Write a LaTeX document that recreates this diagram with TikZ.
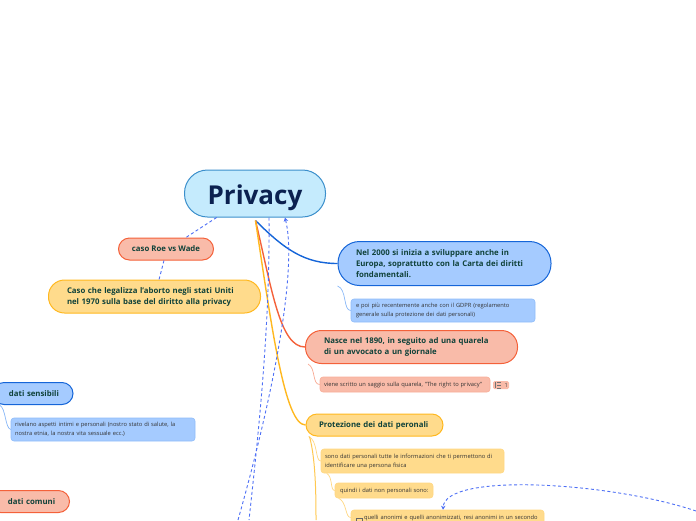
\documentclass[tikz,border=0pt]{standalone}
\usepackage{fontspec}
\setmainfont{Open Sans}
\usepackage{xcolor}
\usetikzlibrary{arrows.meta,positioning}
\definecolor{rootfill}{HTML}{C5EBFD}
\definecolor{rootline}{HTML}{3B8FCB}
\definecolor{rootink}{HTML}{0B2150}
\definecolor{bluefill}{HTML}{A5CBFF}
\definecolor{blueline}{HTML}{1565D8}
\definecolor{redfill}{HTML}{F9BBA9}
\definecolor{redline}{HTML}{F4613A}
\definecolor{yelfill}{HTML}{FFDB8C}
\definecolor{yelline}{HTML}{FFB81F}
\definecolor{mainink}{HTML}{10423A}
\definecolor{linkblue}{HTML}{4D6FF5}
\begin{document}
\begin{tikzpicture}[
	x=1pt,y=-1pt,
	>=Stealth,
	topic/.style={
		rectangle, rounded corners=#1,
		line width=1pt, inner sep=0pt, align=left,
		text=mainink, font=\fontsize{7.8}{11}\selectfont\bfseries
	},
	bluetopic/.style={topic=21.5pt, draw=blueline, fill=bluefill},
	redtopic/.style={topic=16pt, draw=redline, fill=redfill},
	yeltopic/.style={topic=16pt, draw=yelline, fill=yelfill},
	note/.style={
		rectangle, rounded corners=3pt,
		line width=0.6pt, inner sep=0pt, align=left,
		text=black!80, font=\fontsize{5.75}{9}\selectfont
	},
	bluenote/.style={note, draw=bluefill!85!blueline, fill=bluefill},
	rednote/.style={note, draw=redfill!85!redline, fill=redfill},
	yelnote/.style={note, draw=yelfill!90!yelline, fill=yelfill},
	branch/.style={line width=1.4pt},
	twig/.style={line width=0.7pt},
	linkplain/.style={dash pattern=on 3pt off 2.5pt, linkblue, line width=0.9pt},
	link/.style={linkplain, -{Stealth[length=4pt,width=4.5pt]}}
	]
	\useasboundingbox (0,0) rectangle (696,520);
	\clip (0,0) rectangle (696,520);

	%% root
	\coordinate (hub) at (255.5,220.5);
	\node[topic=23pt, draw=rootline, fill=rootfill, minimum width=141pt, minimum height=47pt,
		text height=22pt, text depth=1pt,
		align=center, text=rootink, font=\fontsize{26}{30}\selectfont\bfseries] (root) at (255,193.5) {Privacy};

	%% left side
	\node[redtopic, topic=11pt, draw=redline, minimum width=95pt, minimum height=22pt, align=center] (roe) at (166,249) {caso Roe vs Wade};
	\node[yeltopic, minimum width=212pt, minimum height=33pt, text width=175pt] (aborto) at (154.5,296.5)
	{Caso che legalizza l'aborto negli stati Uniti\\nel 1970 sulla base del diritto alla privacy};
	\node[topic=11pt, draw=blueline, fill=bluefill, minimum width=80pt, minimum height=22pt, text width=48pt] (sens) at (33,393.5) {\mbox{dati sensibili}};
	\node[bluenote, minimum width=184pt, minimum height=23pt, text width=176pt] (sensnote) at (103,429.5)
	{rivelano aspetti intimi e personali (nostro stato di salute, la\\nostra etnia, la nostra vita sessuale ecc.)};
	\node[topic=11pt, draw=redline, fill=redfill, minimum width=80pt, minimum height=22pt, text width=43pt] (comuni) at (29.5,501.5) {\mbox{dati comuni}};

	%% right side
	\node[bluetopic, minimum width=213pt, minimum height=44pt, text width=177pt] (carta) at (444.5,263.5)
	{Nel 2000 si inizia a sviluppare anche in\\Europa, soprattutto con la Carta dei diritti\\fondamentali.};
	\node[bluenote, minimum width=184pt, minimum height=23pt, text width=174pt] (gdpr) at (443,310.5)
	{e poi più recentemente anche con il GDPR (regolamento\\generale sulla protezione dei dati personali)};
	\node[redtopic, minimum width=212pt, minimum height=33pt, text width=175pt] (quarela) at (411.5,347)
	{Nasce nel 1890, in seguito ad una quarela\\di un avvocato a un giornale};
	\node[rednote, minimum width=170pt, minimum height=15pt, text width=162pt] (saggio) at (405,384.5)
	{\mbox{viene scritto un saggio sulla quarela, "The right to privacy"}};
	\node[fill=redfill, rounded corners=1.5pt, minimum width=16pt, minimum height=8pt, inner sep=0pt,
		font=\fontsize{5.75}{6}\selectfont, text=black!70, align=right, text width=14pt] (badge) at (501,385) {1};
	\draw[black!55, line width=0.5pt] (495.5,382) -- (495.5,388) (497,382) -- (501,382) (497,385) -- (501,385) (497,388) -- (501,388);
	\node[yeltopic, topic=11pt, draw=yelline, minimum width=137pt, minimum height=22pt, text width=111pt] (prot) at (374.5,425)
	{\mbox{Protezione dei dati peronali}};
	\node[yelnote, minimum width=183pt, minimum height=24pt, text width=175pt] (pers) at (412.5,461)
	{sono dati personali tutte le informazioni che ti permettono di\\identificare una persona fisica};
	\node[yelnote, minimum width=98pt, minimum height=15pt, text width=88pt] (nonpers) at (384,490.5)
	{\mbox{quindi i dati non personali sono:}};
	\node[yelnote, minimum width=193pt, minimum height=15pt, text width=167pt] (anon) at (447.5,517.5)
	{\mbox{quelli anonimi e quelli anonimizzati, resi anonimi in un secondo}};
	\draw[black!60, line width=0.5pt] (356,526) -- (356,518.5) -- (362,518.5) -- (362,526);

	%% branches from root
	\draw[branch, blueline] (hub) .. controls (285,250) and (305,263.5) .. (carta.west);
	\draw[branch, redline] (hub) .. controls (272,290) and (280,347) .. (quarela.west);
	\draw[branch, yelline] (hub) .. controls (272,330) and (285,425) .. (prot.west);

	%% twigs
	\draw[twig, bluefill!80!blueline] (carta.south west) .. controls (347,289) and (343,310.5) .. (gdpr.west);
	\draw[twig, redfill!80!redline] ([xshift=3pt]quarela.south west) .. controls (316,368) and (312,384.5) .. (saggio.west);
	\draw[twig, bluefill!80!blueline] ([xshift=7pt]sens.south west) .. controls (6,408) and (5,428) .. (sensnote.west);
	\draw[twig, yelfill!90!yelline] ([xshift=3pt]prot.south west) .. controls (318,440) and (315,461) .. (pers.west);
	\draw[twig, yelfill!90!yelline] ([xshift=6pt]pers.south west) .. controls (333,477) and (330,490.5) .. (nonpers.west);
	\draw[twig, yelfill!90!yelline] ([xshift=4pt]nonpers.south west) .. controls (347,502) and (345,517.5) .. (anon.west);
	\coordinate (protend) at (316,520);
	\draw[line width=1pt, yelline!55!yelfill] ([xshift=4pt]prot.south west) .. controls (316,460) and (316,500) .. (protend);

	%% dashed links
	\coordinate (linka) at (249,520);
	\coordinate (linkb) at (238,520);
	\coordinate (linkc) at (696,511);
	\draw[linkplain] (root.-148) -- (roe.30);
	\draw[linkplain] (roe.-100) -- (aborto.75);
	\draw[linkplain] ([xshift=14pt]root.south) .. controls (270,320) and (260,420) .. (linka);
	\draw[link] (linkb) .. controls (272,400) and (298,270) .. ([xshift=30pt]root.south);
	\draw[link] (linkc) .. controls (610,482) and (445,472) .. ([xshift=-4.5pt]anon.north);
\end{tikzpicture}
\end{document}
